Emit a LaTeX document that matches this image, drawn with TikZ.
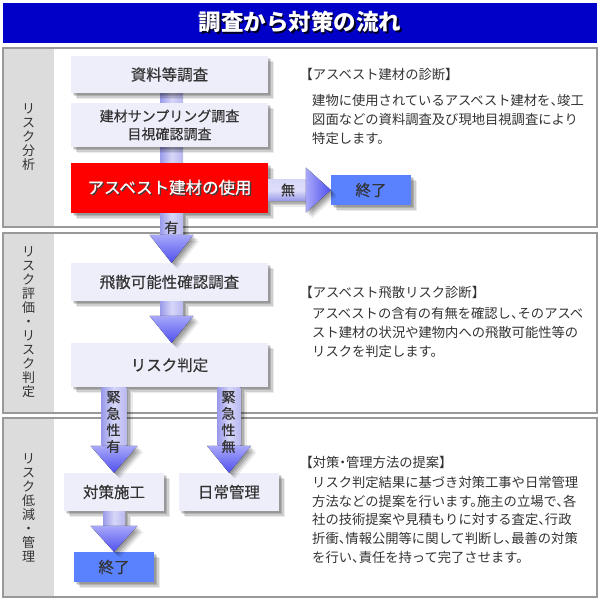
\documentclass[tikz,border=0pt]{standalone}
\usepackage{fontspec}
\setmainfont{Noto Sans CJK JP}
\newfontfamily\parafont[RawFeature=+halt]{Noto Sans CJK JP}
\newfontfamily\boxfont[FakeBold=0.4]{Noto Sans CJK JP}
\usetikzlibrary{calc,backgrounds}
\definecolor{titleblue}{HTML}{0000C8}
\definecolor{panelgray}{HTML}{DCDCDC}
\definecolor{panelline}{HTML}{999999}
\definecolor{boxfill}{HTML}{EEEEFA}
\definecolor{txt}{HTML}{333333}
\definecolor{endblue}{HTML}{5A82FF}
\definecolor{barA}{HTML}{9A9AEA}
\definecolor{barB}{HTML}{D6D6F8}
\definecolor{headA}{HTML}{A8A8FA}
\definecolor{headB}{HTML}{5050EE}
\newcommand{\shtxt}[2]{\rlap{\kern1.3pt\raisebox{-1.3pt}{\color{#1}#2}}#2}
\newcommand{\fatdown}[6]{% from, tip, xshift, body half, head half, head length
  \fill[bodyv,shad] let \p1=(#1), \p2=(#2) in (\x2+#3pt-#4pt,\y1) rectangle (\x2+#3pt+#4pt,\y2+#6pt);
  \fill[headv,shad] let \p1=(#1), \p2=(#2) in (\x2+#3pt-#5pt,\y2+#6pt) -- (\x2+#3pt+#5pt,\y2+#6pt) -- (\x2+#3pt,\y2) -- cycle;
}
\tikzset{
  shad/.style={
    preaction={fill=black, shade=false, fill opacity=0.14, transform canvas={shift={(1.5pt,-1.5pt)}}},
    preaction={fill=black, shade=false, fill opacity=0.14, transform canvas={shift={(3pt,-3pt)}}},
    preaction={fill=black, shade=false, fill opacity=0.12, transform canvas={shift={(4.5pt,-4.5pt)}}},
    preaction={fill=black, shade=false, fill opacity=0.08, transform canvas={shift={(6pt,-6pt)}}}},
  box/.style={fill=boxfill, inner sep=0pt, text=txt, font=\boxfont\fontsize{15.5}{17}\selectfont, align=center, shad},
  endbox/.style={fill=endblue, inner sep=0pt, text=txt, font=\boxfont\fontsize{15.5}{17}\selectfont, minimum width=80pt, minimum height=30pt, shad},
  redbox/.style={fill=red, inner sep=0pt, text=white, font=\boxfont\fontsize{16.5}{18}\selectfont, shad},
  lbl/.style={text=txt, inner sep=0pt, font=\boxfont\fontsize{14}{16.5}\selectfont, align=center},
  side/.style={text=txt, inner sep=0pt, font=\fontsize{13}{14}\selectfont, align=center},
  para/.style={text=txt, inner sep=0pt, anchor=west, font=\parafont\fontsize{13.3}{15}\selectfont},
  bodyv/.style={left color=barA, right color=barA!70!white, middle color=barB},
  bodyh/.style={top color=barB, bottom color=barA, middle color=barB!80!white},
  headv/.style={top color=headA, bottom color=headB},
  headh/.style={left color=headA, right color=headB},
}
\begin{document}
\begin{tikzpicture}[x=1pt,y=-1pt]
\begin{scope}[on background layer]
  \fill[white] (0,0) rectangle (600,600);
\end{scope}
\useasboundingbox (0,0) rectangle (600,600);
% title
\fill[titleblue] (3,3) rectangle (597,43);
\node[text=white, inner sep=0pt, font=\fontsize{22.5}{24}\selectfont\bfseries] (title) at (300,23) {\shtxt{black!85!blue}{調査から対策の流れ}};
% panels
\foreach \a/\b in {48/227,233/413,418/597}{
  \fill[panelgray] (3,\a) rectangle (54,\b);
  \draw[panelline, line width=1.2pt] (3,\a) rectangle (597,\b);
}
\node[side] (s1) at (28.5,137.5) {リ\\ス\\ク\\分\\析};
\node[side] (s2) at (28.5,322) {リ\\ス\\ク\\評\\価\\・\\リ\\ス\\ク\\判\\定};
\node[side] (s3) at (28.5,507.5) {リ\\ス\\ク\\低\\減\\・\\管\\理};
% boxes
\node[box, minimum width=197pt, minimum height=37pt] (n1) at (169.5,74.5) {資料等調査};
\node[box, minimum width=197pt, minimum height=44pt, font=\boxfont\fontsize{14}{18}\selectfont] (n2) at (169.5,125) {建材サンプリング調査\\目視確認調査};
\node[redbox, minimum width=197pt, minimum height=50pt] (n3) at (169.5,188) {\shtxt{black!75}{アスベスト建材の使用}};
\node[endbox] (e1) at (371,190) {終了};
\node[box, minimum width=197pt, minimum height=38pt] (n4) at (169.5,282) {飛散可能性確認調査};
\node[box, minimum width=197pt, minimum height=44pt] (n5) at (169.5,365) {リスク判定};
\node[box, minimum width=100pt, minimum height=38pt] (n6) at (114,492) {対策施工};
\node[box, minimum width=100pt, minimum height=38pt] (n7) at (229,492) {日常管理};
\node[endbox] (e2) at (114,567) {終了};
% connector bar behind the first boxes
\begin{scope}[on background layer]
  \fill[bodyv] let \p1=(n1.south), \p2=(n3.north) in (\x1-9.5pt,\y1) rectangle (\x1+13.5pt,\y2);
\end{scope}
% fat arrows
\fatdown{n3.south}{n4.north}{2}{11.5}{22}{28}
\fatdown{n4.south}{n5.north}{2}{11.5}{22}{27}
\fatdown{n6.north |- n5.south}{n6.north}{0}{12.5}{23.5}{27}
\fatdown{n7.north |- n5.south}{n7.north}{0}{11.5}{22}{27}
\fatdown{n6.south}{e2.north}{0}{11}{23.5}{26}
% horizontal arrow
\fill[bodyh,shad] let \p1=(n3.east), \p2=(e1.west) in (\x1,\y2+10.5pt) rectangle (\x2-25pt,\y2-10.5pt);
\fill[headh,shad] let \p1=(n3.east), \p2=(e1.west) in (\x2-25pt,\y2+22.5pt) -- (\x2-25pt,\y2-22.5pt) -- (\x2,\y2) -- cycle;
% arrow labels
\node[lbl] (l1) at (171.5,227.5) {有};
\node[lbl] (l2) at (288,190) {無};
\node[lbl] (l3) at (113.5,422) {緊\\急\\性\\有};
\node[lbl] (l4) at (228.5,422) {緊\\急\\性\\無};
% texts
\node[para] (h1) at (306,74) {【アスベスト建材の診断】};
\node[para] (p1a) at (312,100) {建物に使用されているアスベスト建材を、竣工};
\node[para] (p1b) at (312,119) {図面などの資料調査及び現地目視調査により};
\node[para] (p1c) at (312,138) {特定します。};
\node[para] (h2) at (306,292) {【アスベスト飛散リスク診断】};
\node[para] (p2a) at (312,313) {アスベストの含有の有無を確認し、そのアスベ};
\node[para] (p2b) at (312,332) {スト建材の状況や建物内への飛散可能性等の};
\node[para] (p2c) at (312,351) {リスクを判定します。};
\node[para] (h3) at (306,462) {【対策・管理方法の提案】};
\node[para] (p3a) at (312,482) {リスク判定結果に基づき対策工事や日常管理};
\node[para] (p3b) at (312,501) {方法などの提案を行います。施主の立場で、各};
\node[para] (p3c) at (312,519.5) {社の技術提案や見積もりに対する査定、行政};
\node[para] (p3d) at (312,538) {折衝、情報公開等に関して判断し、最善の対策};
\node[para] (p3e) at (312,557) {を行い、責任を持って完了させます。};
\end{tikzpicture}
\end{document}
